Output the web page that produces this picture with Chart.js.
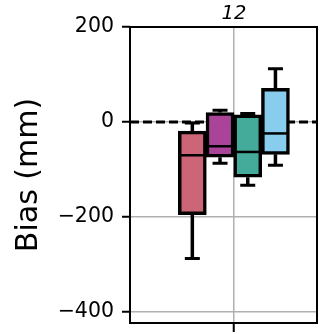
<!DOCTYPE html>
<html>
<head>
<meta charset="utf-8">
<script src="https://cdn.jsdelivr.net/npm/chart.js@4/dist/chart.umd.min.js"></script>
<style>
  html, body { margin: 0; padding: 0; background: #fff; }
  canvas { display: block; }
</style>
</head>
<body>
<canvas id="chart" width="320" height="334"></canvas>
<script>
// Data (mm)
const groupLabel = '12';
const positions = [0.7, 0.9, 1.1, 1.3];
const whiskerLow = [-287, -87, -133, -91];
const q1 = [-195, -74, -116, -68];
const median = [-70, -51, -63, -24];
const q3 = [-19, 20, 15, 71];
const whiskerHigh = [-2, 25, 18, 112];
const yTicks = [-400, -200, 0, 200];
const boxColors = ['#CC6677', '#AA4499', '#44AA99', '#88CCEE'];

const FONT = "'DejaVu Sans', sans-serif";
const X_MIN = 0.25, X_MAX = 1.6;

function fmt(v) {
    return v < 0 ? '\u2212' + Math.abs(v) : String(v);
}

// Whiskers, medians, zero line and frame
const boxPlugin = {
    id: 'boxExtras',
    beforeDatasetsDraw(chart) {
        const { ctx, chartArea: a, scales: { x, y } } = chart;
        ctx.save();
        // dashed zero line
        ctx.strokeStyle = '#000';
        ctx.lineWidth = 3;
        ctx.setLineDash([9, 4]);
        ctx.beginPath();
        ctx.moveTo(a.left, y.getPixelForValue(0));
        ctx.lineTo(a.right, y.getPixelForValue(0));
        ctx.stroke();
        ctx.setLineDash([]);
        // whiskers + caps
        positions.forEach((p, i) => {
            const px = x.getPixelForValue(p);
            ctx.lineWidth = 3.5;
            ctx.beginPath();
            ctx.moveTo(px, y.getPixelForValue(whiskerHigh[i]));
            ctx.lineTo(px, y.getPixelForValue(q3[i]));
            ctx.moveTo(px, y.getPixelForValue(q1[i]));
            ctx.lineTo(px, y.getPixelForValue(whiskerLow[i]));
            ctx.stroke();
            ctx.lineWidth = 3;
            ctx.beginPath();
            [whiskerHigh[i], whiskerLow[i]].forEach(v => {
                const py = y.getPixelForValue(v);
                ctx.moveTo(px - 7.5, py);
                ctx.lineTo(px + 7.5, py);
            });
            ctx.stroke();
        });
        ctx.restore();
    },
    afterDatasetsDraw(chart) {
        const { ctx, chartArea: a, scales: { y } } = chart;
        const bars = chart.getDatasetMeta(0).data;
        ctx.save();
        ctx.strokeStyle = '#000';
        ctx.lineWidth = 2.5;
        bars.forEach((bar, i) => {
            const py = y.getPixelForValue(median[i]);
            ctx.beginPath();
            ctx.moveTo(bar.x - bar.width / 2 + 2, py);
            ctx.lineTo(bar.x + bar.width / 2 - 2, py);
            ctx.stroke();
        });
        // axes frame
        ctx.lineWidth = 2;
        ctx.strokeRect(a.left, a.top, a.right - a.left, a.bottom - a.top);
        ctx.restore();
    }
};

new Chart(document.getElementById('chart'), {
    type: 'bar',
    data: {
        datasets: [{
            data: positions.map((p, i) => ({ x: p, y: [q1[i], q3[i]] })),
            backgroundColor: boxColors,
            borderColor: '#000',
            borderWidth: 3.5,
            borderSkipped: false,
            barThickness: 28
        }]
    },
    options: {
        responsive: false,
        animation: false,
        devicePixelRatio: 1,
        layout: { padding: { left: 0, right: 3, top: 0, bottom: 0 } },
        plugins: { legend: { display: false }, tooltip: { enabled: false }, title: { display: false } },
        scales: {
            x: {
                type: 'linear',
                position: 'bottom',
                offset: false,
                min: X_MIN,
                max: X_MAX,
                afterBuildTicks: axis => { axis.ticks = [{ value: 1 }]; },
                afterFit: axis => { axis.height = 11; },
                ticks: { display: false },
                grid: { offset: false, color: '#b0b0b0', lineWidth: 1.5, tickLength: 9, tickColor: '#000', tickWidth: 2 },
                border: { display: false }
            },
            x2: {
                type: 'linear',
                position: 'top',
                offset: false,
                min: X_MIN,
                max: X_MAX,
                afterBuildTicks: axis => { axis.ticks = [{ value: 1 }]; },
                afterFit: axis => { axis.height = 27; },
                ticks: {
                    callback: () => groupLabel,
                    color: '#000',
                    padding: 1,
                    font: { family: FONT, size: 19.5, style: 'italic' }
                },
                grid: { offset: false, display: false, drawTicks: false },
                border: { display: false }
            },
            y: {
                min: -423,
                max: 200,
                afterBuildTicks: axis => { axis.ticks = yTicks.map(v => ({ value: v })); },
                afterFit: axis => {
                    axis.width = 130;
                    axis.paddingTop = 0;
                    axis.paddingBottom = 0;
                },
                ticks: {
                    callback: v => fmt(v),
                    color: '#000',
                    padding: 8,
                    font: { family: FONT, size: 20.5 }
                },
                grid: { color: '#b0b0b0', lineWidth: 1.5, tickLength: 8, tickColor: '#000', tickWidth: 2 },
                border: { display: false },
                title: {
                    display: true,
                    text: 'Bias (mm)',
                    color: '#000',
                    padding: { top: 11, bottom: 0 },
                    font: { family: FONT, size: 30 }
                }
            }
        }
    },
    plugins: [boxPlugin]
});
</script>
</body>
</html>
